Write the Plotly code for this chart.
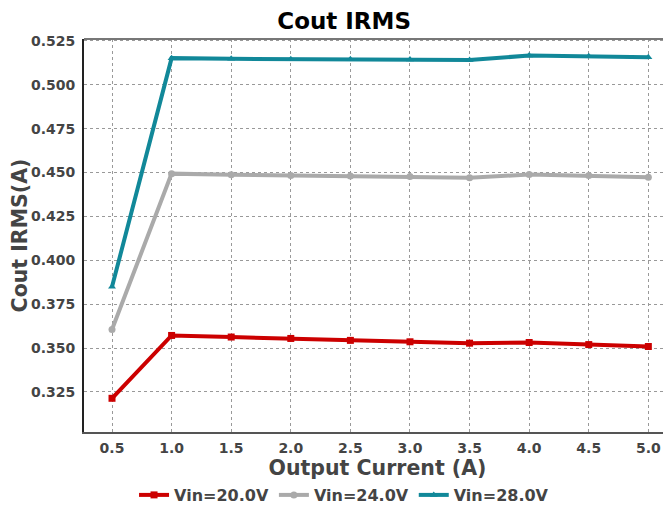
import plotly.graph_objects as go

x_current = [0.5, 1.0, 1.5, 2.0, 2.5, 3.0, 3.5, 4.0, 4.5, 5.0]
vin20 = [0.3214, 0.3572, 0.3563, 0.3555, 0.3544, 0.3536, 0.3528, 0.3532, 0.3520, 0.3509]
vin24 = [0.3606, 0.4494, 0.4488, 0.4484, 0.4480, 0.4477, 0.4471, 0.4489, 0.4483, 0.4473]
vin28 = [0.3849, 0.5152, 0.5148, 0.5146, 0.5145, 0.5144, 0.5141, 0.5167, 0.5163, 0.5157]
series_names = ["Vin=20.0V", "Vin=24.0V", "Vin=28.0V"]
colors = ["#cc0000", "#aaaaaa", "#118899"]
symbols = ["square", "circle", "triangle-up"]
x_ticks = [0.5, 1.0, 1.5, 2.0, 2.5, 3.0, 3.5, 4.0, 4.5, 5.0]
y_ticks = [0.325, 0.350, 0.375, 0.400, 0.425, 0.450, 0.475, 0.500, 0.525]

FONT = "DejaVu Sans"
fig = go.Figure()
for name, ys, c, s in zip(series_names, [vin20, vin24, vin28], colors, symbols):
    fig.add_trace(go.Scatter(x=x_current, y=ys, name=name, mode="lines+markers",
                             line=dict(color=c, width=4),
                             marker=dict(color=c, symbol=s, size=7)))

axis_common = dict(showgrid=True, gridcolor="#999999", griddash="dot", gridwidth=1,
                   ticks="outside", tickcolor="rgba(0,0,0,0)", zeroline=False, automargin=False,
                   tickfont=dict(family=FONT, size=14, color="#444444", weight="bold"))
# page has an 8px body margin, so the figure is sized to fill the rest of the window
fig.update_layout(
    width=663, height=504,
    margin=dict(l=76, r=0, t=31, b=80),
    paper_bgcolor="white", plot_bgcolor="white",
    title=dict(text="<b>Cout IRMS</b>", x=0.507, xanchor="center", y=0.975, yanchor="middle",
               font=dict(family=FONT, size=23, color="black")),
    xaxis=dict(range=[0.265, 5.19], tickvals=x_ticks, ticktext=[f"{v:.1f}" for v in x_ticks],
               ticklen=2,
               title=dict(text="<b>Output Current (A)</b>", standoff=4,
                          font=dict(family=FONT, size=20.5, color="#444444")),
               showline=True, linecolor="#555555", linewidth=2, mirror=False,
               **axis_common),
    yaxis=dict(range=[0.3022, 0.5261], tickvals=y_ticks, ticktext=[f"{v:.3f}" for v in y_ticks],
               ticklen=4,
               title=dict(text="<b>Cout IRMS(A)</b>", standoff=0,
                          font=dict(family=FONT, size=20.5, color="#444444")),
               showline=True, linecolor="#222222", linewidth=2, mirror=False,
               **axis_common),
    legend=dict(orientation="h", x=0.443, xanchor="center", y=-0.2036, yanchor="bottom",
                font=dict(family=FONT, size=16, color="#444444", weight="bold"),
                itemwidth=30, tracegroupgap=0),
    showlegend=True,
)
# top border line
fig.add_shape(type="line", xref="paper", yref="paper", x0=0, x1=1, y0=1, y1=1,
              line=dict(color="#777777", width=2))
fig.write_html("out.html")
